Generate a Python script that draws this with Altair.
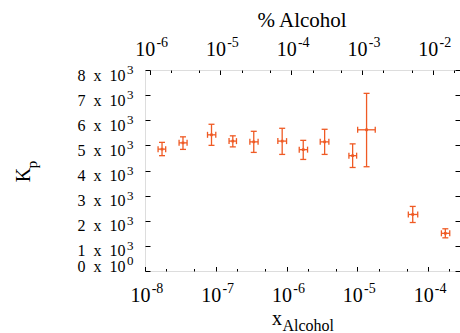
import json
import altair as alt
import pandas as pd

# ---- data ----
x_alcohol = [1.74e-8, 3.44e-8, 8.7e-8, 1.74e-7, 3.44e-7, 8.67e-7, 1.72e-6, 3.45e-6, 8.58e-6, 1.35e-5, 6.06e-5, 1.75e-4]
x_low = [1.53e-8, 3.03e-8, 7.64e-8, 1.54e-7, 3.03e-7, 7.53e-7, 1.51e-6, 2.99e-6, 7.60e-6, 1.01e-5, 5.25e-5, 1.54e-4]
x_high = [1.96e-8, 3.93e-8, 1.0e-7, 1.96e-7, 3.96e-7, 1.0e-6, 1.98e-6, 3.96e-6, 9.77e-6, 1.79e-5, 7.13e-5, 2.02e-4]
kp = [4850, 5100, 5420, 5170, 5140, 5170, 4830, 5140, 4590, 5620, 2250, 1500]
kp_low = [4590, 4840, 5000, 4940, 4720, 4640, 4440, 4640, 4120, 4150, 1930, 1320]
kp_high = [5120, 5340, 5840, 5380, 5560, 5680, 5200, 5640, 5060, 7070, 2570, 1680]

# ---- axis ticks and labels (base and superscript parts) ----
x_tick_values = [1e-8, 1e-7, 1e-6, 1e-5, 1e-4]
x_tick_base = ["10", "10", "10", "10", "10"]
x_tick_exp = ["-8", "-7", "-6", "-5", "-4"]
x_all_ticks = [1e-8, 2e-8, 5e-8, 1e-7, 2e-7, 5e-7, 1e-6, 2e-6, 5e-6, 1e-5, 2e-5, 5e-5, 1e-4, 2e-4]
top_tick_values = [1e-6, 1e-5, 1e-4, 1e-3, 1e-2]
top_tick_base = ["10", "10", "10", "10", "10"]
top_tick_exp = ["-6", "-5", "-4", "-3", "-2"]
top_all_ticks = [1e-6, 2e-6, 5e-6, 1e-5, 2e-5, 5e-5, 1e-4, 2e-4, 5e-4, 1e-3, 2e-3, 5e-3, 1e-2, 2e-2]
y_tick_values = [0, 1000, 2000, 3000, 4000, 5000, 6000, 7000, 8000]
y_tick_base = ["0\u2002x\u200210", "1\u2002x\u200210", "2\u2002x\u200210", "3\u2002x\u200210",
               "4\u2002x\u200210", "5\u2002x\u200210", "6\u2002x\u200210", "7\u2002x\u200210",
               "8\u2002x\u200210"]
y_tick_exp = ["0", "3", "3", "3", "3", "3", "3", "3", "3"]

COLOR = "#ef5a24"
FONT = "Liberation Serif"
W, H = 315, 201

df = pd.DataFrame({"x": x_alcohol, "xlo": x_low, "xhi": x_high,
                   "kp": kp, "lo": kp_low, "hi": kp_high})

xs = alt.Scale(type="log", domain=[1e-8, 2.82e-4], nice=False)
ts = alt.Scale(type="log", domain=[8.58e-7, 2.42e-2], nice=False)
ys = alt.Scale(domain=[0, 8000], nice=False, zero=False)

def lx(labels, shift):
    return json.dumps(labels) + "[round(log(datum.value)/LN10)+%d]" % shift

def ly(labels):
    return json.dumps(labels) + "[round(datum.value/1000)]"

major_test = "abs(log(datum.value)/LN10 - round(log(datum.value)/LN10)) < 0.001"
tick_cond = {"condition": {"test": major_test, "value": 4.5}, "value": 2.5}
y_off_base = {"condition": {"test": "datum.value == 0", "value": 0}, "value": 10}
y_off_exp = {"condition": {"test": "datum.value == 0", "value": -6.5}, "value": 3.5}

base = alt.Chart(df)

# ---- data marks ----
vbar = base.mark_rule(color=COLOR, strokeWidth=1.3).encode(
    x=alt.X("x:Q", scale=xs, axis=None),
    y=alt.Y("lo:Q", scale=ys, axis=None), y2="hi:Q")
hbar = base.mark_rule(color=COLOR, strokeWidth=1.3).encode(
    x=alt.X("xlo:Q", scale=xs, axis=None), x2="xhi:Q",
    y=alt.Y("kp:Q", scale=ys, axis=None))
cap_lo = base.mark_tick(orient="horizontal", size=6, thickness=1.3, color=COLOR, opacity=1).encode(
    x=alt.X("x:Q", scale=xs, axis=None), y=alt.Y("lo:Q", scale=ys, axis=None))
cap_hi = base.mark_tick(orient="horizontal", size=6, thickness=1.3, color=COLOR, opacity=1).encode(
    x=alt.X("x:Q", scale=xs, axis=None), y=alt.Y("hi:Q", scale=ys, axis=None))
cap_l = base.mark_tick(orient="vertical", size=6, thickness=1.3, color=COLOR, opacity=1).encode(
    x=alt.X("xlo:Q", scale=xs, axis=None), y=alt.Y("kp:Q", scale=ys, axis=None))
cap_r = base.mark_tick(orient="vertical", size=6, thickness=1.3, color=COLOR, opacity=1).encode(
    x=alt.X("xhi:Q", scale=xs, axis=None), y=alt.Y("kp:Q", scale=ys, axis=None))
center = base.mark_square(size=7, color=COLOR, opacity=1).encode(
    x=alt.X("x:Q", scale=xs, axis=None), y=alt.Y("kp:Q", scale=ys, axis=None))
main = alt.layer(vbar, hbar, cap_lo, cap_hi, cap_l, cap_r, center)

def label_axis(orient, values, expr, size, padding, offset):
    return alt.Axis(orient=orient, values=values, labelExpr=expr, ticks=False, tickSize=0,
                    domain=False, grid=False, labelFont=FONT, labelFontSize=size,
                    labelColor="black", labelBaseline="alphabetic", labelPadding=padding,
                    labelOffset=offset, labelOverlap=False, labelFlush=False, labelBound=False)

# ---- label axes: base text ----
ax_labels = base.mark_point(opacity=0).encode(
    x=alt.X("x:Q", scale=xs, title=None,
            axis=label_axis("bottom", x_tick_values, lx(x_tick_base, 8), 20, 30, -5)),
    y=alt.Y("kp:Q", scale=ys, title=None,
            axis=label_axis("left", y_tick_values, ly(y_tick_base), 16, 20, y_off_base)))

# ---- label axes: superscripts ----
ax_sup = base.mark_point(opacity=0).encode(
    x=alt.X("x:Q", scale=xs, title=None,
            axis=label_axis("bottom", x_tick_values, lx(x_tick_exp, 8), 14, 21, 12)),
    y=alt.Y("kp:Q", scale=ys, title=None,
            axis=label_axis("left", y_tick_values, ly(y_tick_exp), 13, 12, y_off_exp)))

ax_top = base.mark_point(opacity=0).encode(
    x=alt.X("x:Q", scale=ts, title=None,
            axis=label_axis("top", top_tick_values, lx(top_tick_base, 6), 20, 15, -5)),
    y=alt.Y("kp:Q", scale=ys, title=None, axis=None))

ax_top_sup = base.mark_point(opacity=0).encode(
    x=alt.X("x:Q", scale=ts, title=None,
            axis=label_axis("top", top_tick_values, lx(top_tick_exp, 6), 14, 24, 12)),
    y=alt.Y("kp:Q", scale=ys, title=None, axis=None))

# ---- inward ticks ----
ax_in_bl = base.mark_point(opacity=0).encode(
    x=alt.X("x:Q", scale=xs, title=None, axis=alt.Axis(
        orient="top", offset=-H, values=x_all_ticks, labels=False, domain=False, grid=False,
        ticks=True, tickSize=tick_cond, tickColor="black", tickWidth=1)),
    y=alt.Y("kp:Q", scale=ys, title=None, axis=alt.Axis(
        orient="right", offset=-W, values=y_tick_values, labels=False, domain=False, grid=False,
        ticks=True, tickSize=5, tickColor="black", tickWidth=1)))

ax_in_tr = base.mark_point(opacity=0).encode(
    x=alt.X("x:Q", scale=ts, title=None, axis=alt.Axis(
        orient="bottom", offset=-H, values=top_all_ticks, labels=False, domain=False, grid=False,
        ticks=True, tickSize=tick_cond, tickColor="black", tickWidth=1)),
    y=alt.Y("kp:Q", scale=ys, title=None, axis=alt.Axis(
        orient="left", offset=-W, values=y_tick_values, labels=False, domain=False, grid=False,
        ticks=True, tickSize=5, tickColor="black", tickWidth=1)))

# ---- titles ----
def txt(s, x, y, size, angle=0, align="left"):
    return alt.Chart(pd.DataFrame({"t": [s]})).mark_text(
        font=FONT, fontSize=size, color="black", angle=angle, align=align,
        baseline="alphabetic").encode(text="t:N", x=alt.value(x), y=alt.value(y))

t_top = txt("% Alcohol", 157, -43, 21, align="center")
t_x = txt("x", 127, 255, 20)
t_x_sub = txt("Alcohol", 137.5, 261, 16)
t_k = txt("K", -115, 105, 20, angle=270, align="center")
t_k_sub = txt("p", -108.5, 94.5, 15, angle=270, align="center")

chart = alt.layer(main, ax_labels, ax_sup, ax_top, ax_top_sup, ax_in_bl, ax_in_tr,
                  t_top, t_x, t_x_sub, t_k, t_k_sub).resolve_scale(
    x="independent", y="independent"
).properties(
    width=W, height=H,
    autosize=alt.AutoSizeParams(type="none"),
    padding={"left": 145, "top": 70, "right": 0, "bottom": 62},
).configure_view(stroke="black", strokeWidth=1).configure(background="white")

chart.save("out.html", embed_options={"renderer": "svg", "actions": False})
